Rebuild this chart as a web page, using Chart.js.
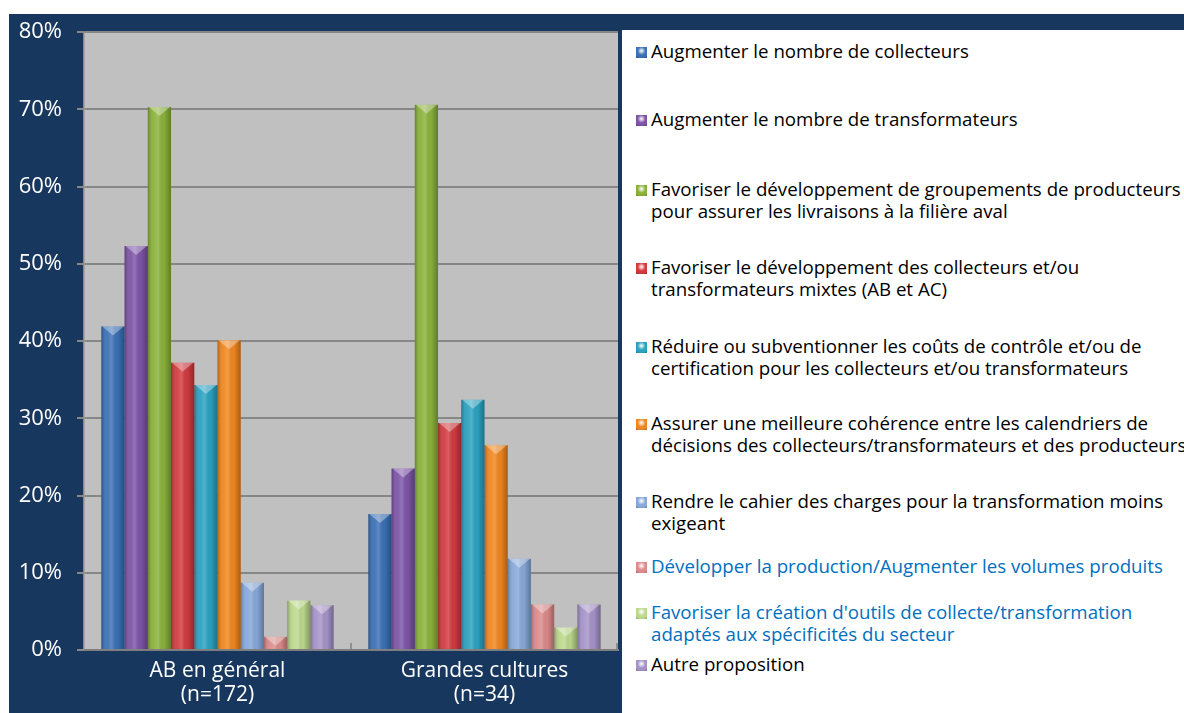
<!DOCTYPE html>
<html>
<head>
<meta charset="utf-8">
<script src="https://cdn.jsdelivr.net/npm/chart.js@4"></script>
<style>
  body { margin: 0; width: 1184px; height: 713px; background: #fff; overflow: hidden; position: relative; font-family: "Open Sans", sans-serif; }
  #strip { position: absolute; left: 9px; top: 14px; width: 1175px; height: 16px; background: #17375e; }
  #box { position: absolute; left: 9px; top: 14px; width: 613px; height: 699px; background: #17375e; overflow: hidden; }
  #c { position: absolute; left: 0; top: -10px; }
  #legend { position: absolute; left: 622px; top: 30px; right: 0; bottom: 0; background: #fff; }
  .item { position: absolute; left: 14px; font-size: 18.7px; line-height: 22px; white-space: pre; }
  .mark { position: absolute; left: 0; top: 6px; width: 11px; height: 11px; }
  .txt { position: absolute; left: 15px; top: -1px; }
</style>
</head>
<body>
<div id="strip"></div>
<div id="box"><canvas id="c" width="613" height="709"></canvas></div>
<div id="legend"></div>
<script>
// categories (x axis)
const categories = [['AB en général', '(n=172)'], ['Grandes cultures', '(n=34)']];

// series names (as shown in the legend, line by line)
const seriesNames = [
  ['Augmenter le nombre de collecteurs'],
  ['Augmenter le nombre de transformateurs'],
  ['Favoriser le développement de groupements de producteurs', 'pour assurer les livraisons à la filière aval'],
  ['Favoriser le développement des collecteurs et/ou', 'transformateurs mixtes (AB et AC)'],
  ['Réduire ou subventionner les coûts de contrôle et/ou de', 'certification pour les collecteurs et/ou transformateurs'],
  ['Assurer une meilleure cohérence entre les calendriers de', 'décisions des collecteurs/transformateurs et des producteurs'],
  ['Rendre le cahier des charges pour la transformation moins', 'exigeant'],
  ['Développer la production/Augmenter les volumes produits'],
  ["Favoriser la création d'outils de collecte/transformation", 'adaptés aux spécificités du secteur'],
  ['Autre proposition']
];

// values in % : [AB en général, Grandes cultures]
const collecteurs      = [41.9, 17.6];
const transformateurs  = [52.3, 23.5];
const groupements      = [70.3, 70.6];
const mixtes           = [37.2, 29.4];
const coutsControle    = [34.3, 32.4];
const calendriers      = [40.1, 26.5];
const cahierCharges    = [8.7, 11.8];
const production       = [1.7, 5.9];
const outils           = [6.4, 2.9];
const autre            = [5.8, 5.9];

const seriesValues = [collecteurs, transformateurs, groupements, mixtes, coutsControle,
                      calendriers, cahierCharges, production, outils, autre];

const yTicks = [0, 10, 20, 30, 40, 50, 60, 70, 80];

const colors = ['#3a70b6', '#7d54a8', '#8ab23a', '#d13a3e', '#2aa2c0',
                '#f0861e', '#87a8d9', '#dc8a8a', '#bcd88c', '#a593c8'];
const legendText = ['#000', '#000', '#000', '#000', '#000', '#000', '#000', '#0070c0', '#0070c0', '#000'];
const legendTops = [41, 109, 179, 257, 336, 413, 491, 556, 602, 654];

// legend
const leg = document.getElementById('legend');
seriesNames.forEach((name, i) => {
  const d = document.createElement('div');
  d.className = 'item';
  d.style.top = (legendTops[i] - 30) + 'px';
  d.style.color = legendText[i];
  d.innerHTML = '<span class="mark" style="background:radial-gradient(circle at 50% 35%, #fff 0%, ' + colors[i] + ' 45%, ' + colors[i] + ' 70%, rgba(0,0,0,0.55) 140%), ' + colors[i] + '"></span>'
    + '<span class="txt"></span>';
  d.querySelector('.txt').textContent = name.join('\n');
  leg.appendChild(d);
});

// plot background + inside ticks on the category axis
const plotBg = {
  id: 'plotBg',
  beforeDraw(chart) {
    const a = chart.chartArea, ctx = chart.ctx;
    ctx.save();
    ctx.fillStyle = '#c0c0c0';
    ctx.fillRect(a.left, a.top, a.right - a.left, a.bottom - a.top);
    ctx.restore();
  },
  afterDraw(chart) {
    const a = chart.chartArea, ctx = chart.ctx, x = chart.scales.x;
    const mid = (x.getPixelForTick(0) + x.getPixelForTick(1)) / 2;
    ctx.save();
    ctx.strokeStyle = '#7f7f7f';
    ctx.lineWidth = 1.5;
    ctx.beginPath();
    [mid, a.right - 1].forEach(px => { ctx.moveTo(px, a.bottom); ctx.lineTo(px, a.bottom - 7); });
    ctx.stroke();
    ctx.restore();
  }
};

// cylinder-ish shading on bars
const barShade = {
  id: 'barShade',
  afterDatasetsDraw(chart) {
    const ctx = chart.ctx;
    ctx.save();
    chart.data.datasets.forEach((ds, di) => {
      chart.getDatasetMeta(di).data.forEach(bar => {
        const l = bar.x - bar.width / 2, r = bar.x + bar.width / 2;
        const g = ctx.createLinearGradient(l, 0, r, 0);
        g.addColorStop(0, 'rgba(0,0,0,0.28)');
        g.addColorStop(0.25, 'rgba(255,255,255,0.05)');
        g.addColorStop(0.45, 'rgba(255,255,255,0.18)');
        g.addColorStop(0.7, 'rgba(0,0,0,0.02)');
        g.addColorStop(1, 'rgba(0,0,0,0.3)');
        ctx.fillStyle = g;
        ctx.fillRect(l, bar.y, r - l, bar.base - bar.y);
        const h = Math.min(9, bar.base - bar.y);
        ctx.fillStyle = 'rgba(255,255,255,0.35)';
        ctx.beginPath();
        ctx.moveTo(l + 1, bar.y);
        ctx.lineTo(r - 1, bar.y);
        ctx.lineTo(bar.x, bar.y + h);
        ctx.closePath();
        ctx.fill();
      });
    });
    ctx.restore();
  }
};

new Chart(document.getElementById('c'), {
  type: 'bar',
  data: {
    labels: categories,
    datasets: seriesValues.map((v, i) => ({
      label: seriesNames[i].join(' '),
      data: v,
      backgroundColor: colors[i],
      borderWidth: 0,
      categoryPercentage: 0.87,
      barPercentage: 1.0
    }))
  },
  options: {
    responsive: false,
    animation: false,
    layout: { padding: { top: 3, right: 4, left: 0, bottom: 0 } },
    plugins: { legend: { display: false }, tooltip: { enabled: false } },
    scales: {
      x: {
        grid: { display: false, drawTicks: false },
        border: { display: true, color: '#7f7f7f', width: 2 },
        ticks: { color: '#fff', padding: 9, font: { family: 'Open Sans', size: 21, lineHeight: 1.143 } },
        afterFit: s => { s.height = 63; }
      },
      y: {
        min: 0, max: 80,
        afterBuildTicks: s => { s.ticks = yTicks.map(v => ({ value: v })); },
        grid: { color: '#878787', lineWidth: 2, tickLength: 7 },
        border: { color: '#8a8a8a', width: 1.5 },
        ticks: { color: '#fff', padding: 15, font: { family: 'Open Sans', size: 22, lineHeight: 1.2 }, callback: v => v + '%' },
        afterFit: s => { s.width = 75; }
      }
    }
  },
  plugins: [plotBg, barShade]
});
</script>
</body>
</html>
